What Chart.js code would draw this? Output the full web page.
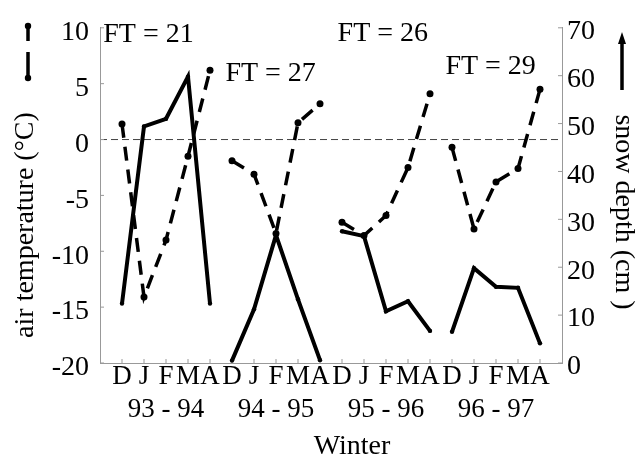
<!DOCTYPE html>
<html>
<head>
<meta charset="utf-8">
<script src="https://cdn.jsdelivr.net/npm/chart.js@4.4.1/dist/chart.umd.min.js"></script>
<style>
  html, body { margin: 0; padding: 0; background: #fff; }
</style>
</head>
<body>
<canvas id="winterChart" width="642" height="462"></canvas>
<script>
// months of each winter and winter names
const months = ['D', 'J', 'F', 'M', 'A'];
const winters = ['93 - 94', '94 - 95', '95 - 96', '96 - 97'];

// mean monthly air temperature (°C), D..A for each winter
const airTemp = [
  1.4, -14.1, -9.0, -1.5, 6.2,
  -1.9, -3.1, -8.4, 1.5, 3.2,
  -7.4, -8.6, -6.8, -2.5, 4.1,
  -0.7, -8.0, -3.8, -2.6, 4.5
];

// snow depth (cm), D..A for each winter
const snowDepth = [
  12.4, 49.4, 51.0, 59.8, 12.4,
  0.5, 11.2, 26.7, 13.3, 0.6,
  27.5, 26.5, 10.8, 12.9, 6.7,
  6.5, 19.8, 15.9, 15.7, 4.1
];

// number of freeze-thaw cycles per winter
const ftCounts = [21, 27, 26, 29];

// axis ranges
const tempTicks = [-20, 10, 5];
const snowTicks = [0, 70, 10];

// where the FT labels sit (x index, temperature)
const ftPos = [[0.15, 9.4], [5.7, 5.9], [10.8, 9.5], [15.7, 6.5]];

const FONT = "'Liberation Serif', 'Times New Roman', serif";

// category labels, one empty slot on each side
const labels = [''];
winters.forEach(w => {
  months.forEach(m => labels.push(m === 'F' ? ['F', w] : m));
});
labels.push('');

const pad = arr => [null, ...arr, null];

// no line joining the April of one winter to the December of the next
const breakWinter = (color) => ctx => (ctx.p0DataIndex % 5 === 0 ? 'rgba(0,0,0,0)' : color);

const decor = {
  id: 'decor',
  beforeDatasetsDraw(chart) {
    const { ctx, chartArea: a, scales } = chart;
    const x = scales.x, yT = scales.yT;
    ctx.save();
    // 0 °C line
    const y0 = yT.getPixelForValue(0);
    ctx.strokeStyle = '#444';
    ctx.lineWidth = 1;
    ctx.setLineDash([7, 4]);
    ctx.beginPath();
    ctx.moveTo(a.left, y0);
    ctx.lineTo(a.right, y0);
    ctx.stroke();
    ctx.setLineDash([]);
    // small tick marks pointing into the plot
    ctx.strokeStyle = '#999';
    for (let i = 1; i < labels.length - 1; i++) {
      const px = x.getPixelForValue(i);
      ctx.beginPath();
      ctx.moveTo(px, a.bottom);
      ctx.lineTo(px, a.bottom - 4);
      ctx.stroke();
    }
    for (let v = tempTicks[0]; v <= tempTicks[1]; v += tempTicks[2]) {
      const py = yT.getPixelForValue(v);
      ctx.beginPath();
      ctx.moveTo(a.left, py);
      ctx.lineTo(a.left + 4, py);
      ctx.stroke();
    }
    const yS = scales.yS;
    for (let v = snowTicks[0]; v <= snowTicks[1]; v += snowTicks[2]) {
      const py = yS.getPixelForValue(v);
      ctx.beginPath();
      ctx.moveTo(a.right, py);
      ctx.lineTo(a.right - 4, py);
      ctx.stroke();
    }
    ctx.restore();
  },
  afterDraw(chart) {
    const { ctx, scales } = chart;
    const x = scales.x, yT = scales.yT;
    ctx.save();
    ctx.fillStyle = '#000';
    ctx.font = '28px ' + FONT;
    ctx.textBaseline = 'middle';

    // FT labels
    ctx.textAlign = 'left';
    ftCounts.forEach((n, i) => {
      ctx.fillText('FT = ' + n, x.getPixelForValue(ftPos[i][0]), yT.getPixelForValue(ftPos[i][1]));
    });

    // x title
    ctx.textAlign = 'center';
    ctx.fillText('Winter', 352, 447);

    // left title
    ctx.save();
    ctx.translate(26, 225);
    ctx.rotate(-Math.PI / 2);
    ctx.fillText('air temperature (\u00B0C)', 0, 0);
    ctx.restore();

    // right title
    ctx.save();
    ctx.translate(623, 212);
    ctx.rotate(Math.PI / 2);
    ctx.fillText('snow depth (cm )', 0, 0);
    ctx.restore();

    // dashed-line key next to the left title
    ctx.strokeStyle = '#000';
    ctx.lineWidth = 3.5;
    ctx.beginPath();
    ctx.moveTo(28, 26); ctx.lineTo(28, 41);
    ctx.moveTo(28, 52); ctx.lineTo(28, 78);
    ctx.stroke();
    ctx.beginPath(); ctx.arc(28, 26, 3.2, 0, Math.PI * 2); ctx.fill();
    ctx.beginPath(); ctx.arc(28, 78, 3.2, 0, Math.PI * 2); ctx.fill();

    // solid-line key (arrow) next to the right title
    ctx.beginPath();
    ctx.moveTo(622, 90); ctx.lineTo(622, 42);
    ctx.stroke();
    ctx.beginPath();
    ctx.moveTo(622, 32); ctx.lineTo(618, 44); ctx.lineTo(626, 44); ctx.closePath();
    ctx.fill();
    ctx.restore();
  }
};

function createWinterChart() {
  const ctx = document.getElementById('winterChart').getContext('2d');
  return new Chart(ctx, {
    type: 'line',
    data: {
      labels: labels,
      datasets: [
        {
          label: 'air temperature',
          data: pad(airTemp),
          yAxisID: 'yT',
          borderColor: '#000',
          backgroundColor: '#000',
          borderWidth: 3.5,
          borderDash: [14, 9],
          pointRadius: 3.5,
          pointBorderWidth: 0,
          tension: 0,
          segment: { borderColor: breakWinter('#000') }
        },
        {
          label: 'snow depth',
          data: pad(snowDepth),
          yAxisID: 'yS',
          borderColor: '#000',
          backgroundColor: '#000',
          borderWidth: 4,
          borderJoinStyle: 'miter',
          pointRadius: 2.2,
          pointBorderWidth: 0,
          tension: 0,
          segment: { borderColor: breakWinter('#000') }
        }
      ]
    },
    options: {
      responsive: false,
      animation: false,
      devicePixelRatio: 1,
      layout: { padding: { top: 18, left: 0, right: 0, bottom: 0 } },
      plugins: { legend: { display: false }, tooltip: { enabled: false } },
      scales: {
        x: {
          type: 'category',
          offset: false,
          afterFit: s => { s.height = 99; },
          grid: { display: false, drawTicks: false },
          border: { display: true, color: '#999', width: 1 },
          ticks: {
            autoSkip: false,
            maxRotation: 0,
            minRotation: 0,
            padding: -2,
            color: '#000',
            font: { family: FONT, size: 27, lineHeight: 1.2 }
          }
        },
        yT: {
          position: 'left',
          min: tempTicks[0],
          max: tempTicks[1],
          afterFit: s => { s.width = 100; },
          grid: { display: false, drawTicks: false },
          border: { display: true, color: '#999', dash: [2, 2], width: 1 },
          ticks: {
            stepSize: tempTicks[2],
            padding: 11,
            labelOffset: 5,
            color: '#000',
            font: { family: FONT, size: 28 }
          }
        },
        yS: {
          position: 'right',
          min: snowTicks[0],
          max: snowTicks[1],
          afterFit: s => { s.width = 80; },
          grid: { display: false, drawTicks: false },
          border: { display: true, color: '#999', dash: [2, 2], width: 1 },
          ticks: {
            stepSize: snowTicks[2],
            padding: 5,
            labelOffset: 4,
            color: '#000',
            font: { family: FONT, size: 28 }
          }
        }
      }
    },
    plugins: [decor]
  });
}

createWinterChart();
</script>
</body>
</html>
